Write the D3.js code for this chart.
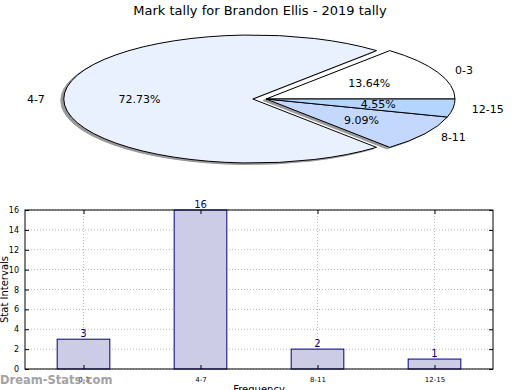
<!DOCTYPE html>
<html>
<head>
<meta charset="utf-8">
<script src="https://cdn.jsdelivr.net/npm/d3@7"></script>
<style>
  body { margin: 0; background: #fff; }
  svg { font-family: "DejaVu Sans", sans-serif; display: block; }
</style>
</head>
<body>
<div id="chart"></div>
<script>
const width = 520
const height = 390

const categories = ["0-3", "4-7", "8-11", "12-15"]
const counts = [3, 16, 2, 1]
const pieColors = ["#ffffff", "#eaf1fe", "#c4d8fe", "#b3d5fe"]
const exploded = [0, 0.07, 0, 0]
const yTicks = [0, 2, 4, 6, 8, 10, 12, 14, 16]

const svg = d3.select("#chart").append("svg").attr("width", width).attr("height", height)

svg.append("text")
    .attr("x", 260).attr("y", 15)
    .attr("text-anchor", "middle")
    .attr("font-size", 13)
    .text("Mark tally for Brandon Ellis - 2019 tally")

// ---- pie (matplotlib style: counterclockwise from 3 o'clock, squashed) ----
const cx = 266, cy = 99, rx = 189, ry = 64
const total = d3.sum(counts)

const pie = d3.pie().sort(null).startAngle(Math.PI / 2).endAngle(Math.PI / 2 - 2 * Math.PI)
const arcs = pie(counts)
const arc = d3.arc().innerRadius(0).outerRadius(rx)

// mid angle in d3 convention -> offset on screen
function dir(d, k) {
    const a = (d.startAngle + d.endAngle) / 2
    return [Math.sin(a) * rx * k, -Math.cos(a) * ry * k]
}
function sliceTransform(d, i, dx, dy) {
    const [ox, oy] = dir(d, exploded[i])
    return `translate(${cx + ox + dx},${cy + oy + dy}) scale(1,${ry / rx})`
}

const pieGroup = svg.append("g")

pieGroup.selectAll("path.shadow").data(arcs).join("path")
    .attr("class", "shadow")
    .attr("d", arc)
    .attr("transform", (d, i) => sliceTransform(d, i, -3, 1.5))
    .attr("fill", "#999")
    .attr("stroke", "#999")
    .attr("vector-effect", "non-scaling-stroke")

pieGroup.selectAll("path.slice").data(arcs).join("path")
    .attr("class", "slice")
    .attr("d", arc)
    .attr("transform", (d, i) => sliceTransform(d, i, 0, 0))
    .attr("fill", (d, i) => pieColors[i])
    .attr("stroke", "#000")
    .attr("stroke-width", 1)
    .attr("stroke-linejoin", "round")
    .attr("vector-effect", "non-scaling-stroke")

// category labels at 1.1 radius
pieGroup.selectAll("text.lab").data(arcs).join("text")
    .attr("class", "lab")
    .attr("x", (d, i) => cx + dir(d, 1.1 + exploded[i])[0])
    .attr("y", (d, i) => cy + dir(d, 1.1 + exploded[i])[1])
    .attr("dy", "0.35em")
    .attr("text-anchor", d => dir(d, 1)[0] >= 0 ? "start" : "end")
    .attr("font-size", 11)
    .text((d, i) => categories[i])

// percentages at 0.6 radius
pieGroup.selectAll("text.pct").data(arcs).join("text")
    .attr("class", "pct")
    .attr("x", (d, i) => cx + dir(d, 0.6 + exploded[i])[0])
    .attr("y", (d, i) => cy + dir(d, 0.6 + exploded[i])[1])
    .attr("dy", "0.35em")
    .attr("text-anchor", "middle")
    .attr("font-size", 11)
    .text(d => (d.value / total * 100).toFixed(2) + "%")

// ---- bar chart ----
const plotLeft = 25, plotRight = 493, plotTop = 210, plotBottom = 369

const x = d3.scalePoint().domain(categories).range([plotLeft, plotRight]).padding(0.5)
const y = d3.scaleLinear().domain([0, 16]).range([plotBottom, plotTop])
const barW = x.step() * 0.45

const barGroup = svg.append("g")

// grid
barGroup.selectAll("line.hgrid").data(yTicks).join("line")
    .attr("x1", plotLeft).attr("x2", plotRight)
    .attr("y1", d => y(d)).attr("y2", d => y(d))
    .attr("stroke", "#bbb").attr("stroke-dasharray", "1,2")
barGroup.selectAll("line.vgrid").data(categories).join("line")
    .attr("x1", d => x(d)).attr("x2", d => x(d))
    .attr("y1", plotTop).attr("y2", plotBottom)
    .attr("stroke", "#bbb").attr("stroke-dasharray", "1,2")

barGroup.selectAll("rect.bar").data(counts).join("rect")
    .attr("class", "bar")
    .attr("x", (d, i) => x(categories[i]) - barW / 2)
    .attr("width", barW)
    .attr("y", d => y(d))
    .attr("height", d => plotBottom - y(d))
    .attr("fill", "#cccce6")
    .attr("stroke", "#000080")

barGroup.selectAll("text.val").data(counts).join("text")
    .attr("x", (d, i) => x(categories[i]))
    .attr("y", d => y(d) - 2)
    .attr("text-anchor", "middle")
    .attr("font-size", 10)
    .attr("fill", "#000080")
    .text(d => d)

// frame
barGroup.append("rect")
    .attr("x", plotLeft).attr("y", plotTop)
    .attr("width", plotRight - plotLeft).attr("height", plotBottom - plotTop)
    .attr("fill", "none").attr("stroke", "#000")

// axes with inward ticks
const yAxis = d3.axisLeft(y).tickValues(yTicks).tickSize(-4).tickPadding(6)
const yAxisR = d3.axisRight(y).tickValues(yTicks).tickSize(-4).tickFormat("")
const xAxis = d3.axisBottom(x).tickSize(-4).tickPadding(8)
const xAxisT = d3.axisTop(x).tickSize(-4).tickFormat("")

function styleAxis(g, fs) {
    g.select(".domain").remove()
    g.selectAll("text").attr("font-size", fs).attr("font-family", "DejaVu Sans, sans-serif")
}
svg.append("g").attr("transform", `translate(${plotLeft},0)`).call(yAxis).call(g => styleAxis(g, 8))
svg.append("g").attr("transform", `translate(${plotRight},0)`).call(yAxisR).call(g => styleAxis(g, 8))
svg.append("g").attr("transform", `translate(0,${plotBottom})`).call(xAxis).call(g => styleAxis(g, 7))
svg.append("g").attr("transform", `translate(0,${plotTop})`).call(xAxisT).call(g => styleAxis(g, 7))

svg.append("text")
    .attr("transform", `translate(8,${(plotTop + plotBottom) / 2}) rotate(-90)`)
    .attr("text-anchor", "middle")
    .attr("font-size", 10)
    .text("Stat Intervals")

svg.append("text")
    .attr("x", (plotLeft + plotRight) / 2).attr("y", 393)
    .attr("text-anchor", "middle")
    .attr("font-size", 10)
    .text("Frequency")

svg.append("text")
    .attr("x", 0).attr("y", 384)
    .attr("font-size", 11.5)
    .attr("font-weight", "bold")
    .attr("fill", "#999")
    .attr("opacity", 0.9)
    .text("Dream-Stats.com")
</script>
</body>
</html>
